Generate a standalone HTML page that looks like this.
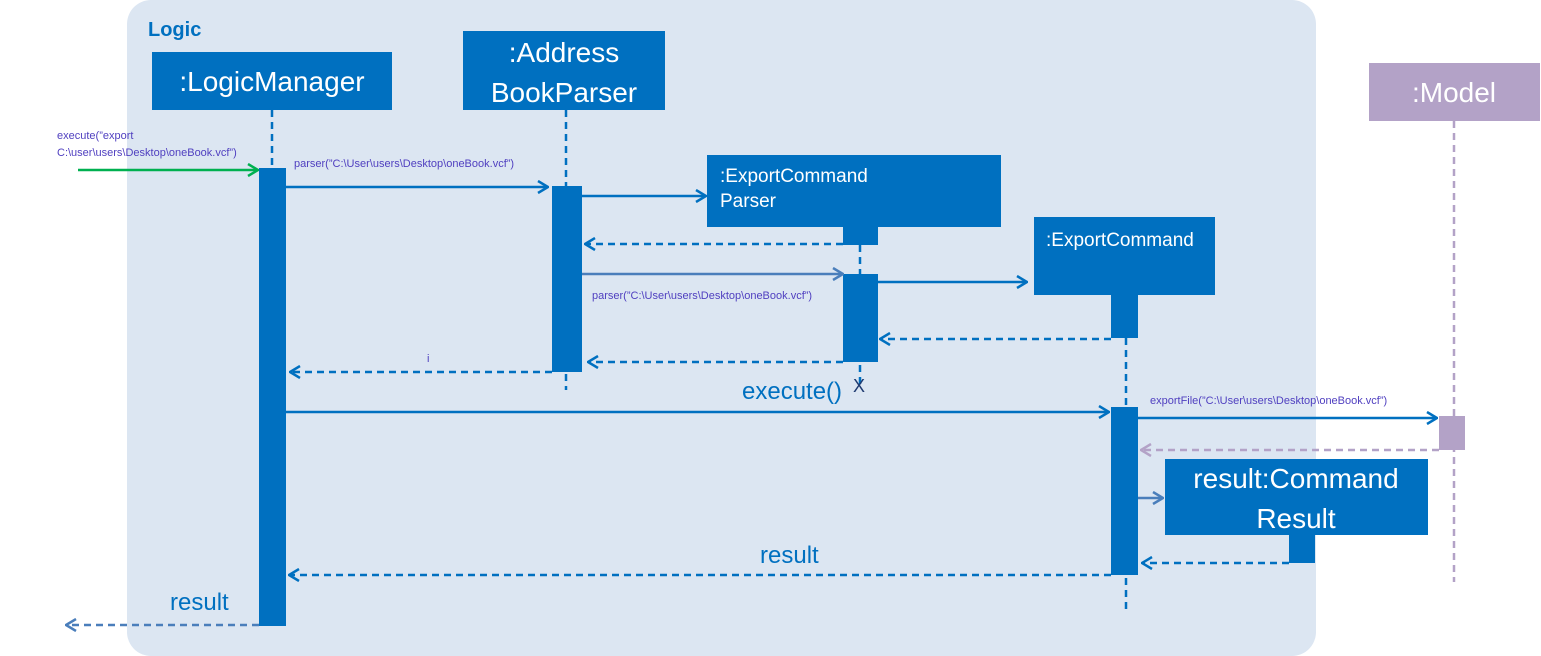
<!DOCTYPE html>
<html><head><meta charset="utf-8"><style>body{margin:0;background:#fff}svg{display:block}text{font-family:"Liberation Sans",sans-serif}</style></head><body>
<svg width="1541" height="656" viewBox="0 0 1541 656" xmlns="http://www.w3.org/2000/svg">
<defs>
<marker id="a" markerWidth="12" markerHeight="14" refX="11" refY="7" orient="auto" markerUnits="userSpaceOnUse"><path d="M1,1 L11,7 L1,13" fill="none" stroke="#0070c0" stroke-width="2.5"/></marker>
<marker id="g" markerWidth="12" markerHeight="14" refX="11" refY="7" orient="auto" markerUnits="userSpaceOnUse"><path d="M1,1 L11,7 L1,13" fill="none" stroke="#00b050" stroke-width="2.5"/></marker>
<marker id="l" markerWidth="12" markerHeight="14" refX="11" refY="7" orient="auto" markerUnits="userSpaceOnUse"><path d="M1,1 L11,7 L1,13" fill="none" stroke="#4a7ebb" stroke-width="2.5"/></marker>
<marker id="p" markerWidth="12" markerHeight="14" refX="11" refY="7" orient="auto" markerUnits="userSpaceOnUse"><path d="M1,1 L11,7 L1,13" fill="none" stroke="#b3a2c7" stroke-width="2.5"/></marker>
</defs>
<rect x="127" y="0" width="1189" height="656" rx="24" fill="#dce6f2"/>
<text x="148" y="36" font-size="20" font-weight="bold" fill="#0070c0">Logic</text>
<g stroke="#0070c0" stroke-width="2.5" stroke-dasharray="7,5" fill="none">
<line x1="272" y1="110" x2="272" y2="168"/>
<line x1="566" y1="110" x2="566" y2="390"/>
<line x1="860" y1="245" x2="860" y2="385"/>
<line x1="1126" y1="338" x2="1126" y2="612"/>
</g>
<line x1="1454" y1="121" x2="1454" y2="582" stroke="#b3a2c7" stroke-width="2.5" stroke-dasharray="7,5"/>
<g fill="#0070c0">
<rect x="152" y="52" width="240" height="58"/>
<rect x="463" y="31" width="202" height="79"/>
<rect x="707" y="155" width="294" height="72"/>
<rect x="843" y="227" width="35" height="18"/>
<rect x="1034" y="217" width="181" height="78"/>
<rect x="1111" y="295" width="27" height="43"/>
<rect x="1165" y="459" width="263" height="76"/>
<rect x="1289" y="535" width="26" height="28"/>
<rect x="259" y="168" width="27" height="458"/>
<rect x="552" y="186" width="30" height="186"/>
<rect x="843" y="274" width="35" height="88"/>
<rect x="1111" y="407" width="27" height="168"/>
</g>
<rect x="1369" y="63" width="171" height="58" fill="#b3a2c7"/>
<rect x="1439" y="416" width="26" height="34" fill="#b3a2c7"/>
<g fill="#fff" font-size="28" text-anchor="middle">
<text x="272" y="91">:LogicManager</text>
<text x="564" y="62">:Address</text>
<text x="564" y="102">BookParser</text>
<text x="1454" y="102">:Model</text>
<text x="1296" y="488">result:Command</text>
<text x="1296" y="528">Result</text>
</g>
<g fill="#fff" font-size="19">
<text x="720" y="182">:ExportCommand</text>
<text x="720" y="207">Parser</text>
<text x="1046" y="246">:ExportCommand</text>
</g>
<g fill="none" stroke-width="2.5">
<line x1="78" y1="170" x2="258" y2="170" stroke="#00b050" marker-end="url(#g)"/>
<line x1="286" y1="187" x2="548" y2="187" stroke="#0070c0" marker-end="url(#a)"/>
<line x1="582" y1="196" x2="706" y2="196" stroke="#0070c0" marker-end="url(#a)"/>
<line x1="582" y1="274" x2="843" y2="274" stroke="#4a7ebb" marker-end="url(#l)"/>
<line x1="878" y1="282" x2="1027" y2="282" stroke="#0070c0" marker-end="url(#a)"/>
<line x1="286" y1="412" x2="1109" y2="412" stroke="#0070c0" marker-end="url(#a)"/>
<line x1="1138" y1="418" x2="1437" y2="418" stroke="#0070c0" marker-end="url(#a)"/>
<line x1="1138" y1="498" x2="1163" y2="498" stroke="#4a7ebb" marker-end="url(#l)"/>
<g stroke-dasharray="7,5">
<line x1="843" y1="244" x2="585" y2="244" stroke="#0070c0" marker-end="url(#a)"/>
<line x1="1111" y1="339" x2="880" y2="339" stroke="#0070c0" marker-end="url(#a)"/>
<line x1="843" y1="362" x2="588" y2="362" stroke="#0070c0" marker-end="url(#a)"/>
<line x1="552" y1="372" x2="290" y2="372" stroke="#0070c0" marker-end="url(#a)"/>
<line x1="1439" y1="450" x2="1141" y2="450" stroke="#b3a2c7" marker-end="url(#p)"/>
<line x1="1289" y1="563" x2="1142" y2="563" stroke="#0070c0" marker-end="url(#a)"/>
<line x1="1111" y1="575" x2="289" y2="575" stroke="#0070c0" marker-end="url(#a)"/>
<line x1="259" y1="625" x2="66" y2="625" stroke="#4a7ebb" marker-end="url(#l)"/>
</g>
</g>
<g fill="#5040c0" font-size="11">
<text x="57" y="139">execute(”export</text>
<text x="57" y="156">C:\user\users\Desktop\oneBook.vcf”)</text>
<text x="294" y="167">parser(”C:\User\users\Desktop\oneBook.vcf”)</text>
<text x="592" y="299">parser(”C:\User\users\Desktop\oneBook.vcf”)</text>
<text x="427" y="362">i</text>
<text x="1150" y="404">exportFile(”C:\User\users\Desktop\oneBook.vcf”)</text>
</g>
<text x="853" y="392" font-size="18" fill="#1f3a70">X</text>
<g fill="#0070c0" font-size="24">
<text x="742" y="399">execute()</text>
<text x="760" y="563">result</text>
<text x="170" y="610">result</text>
</g>
</svg>
</body></html>
